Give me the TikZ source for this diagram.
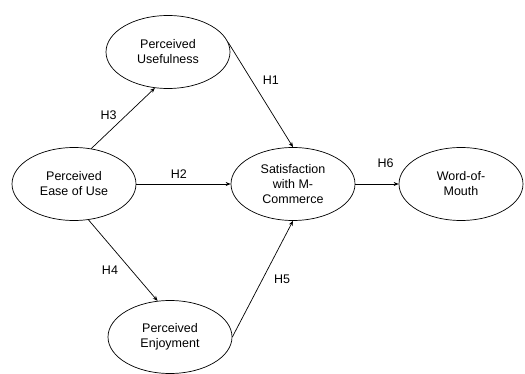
\documentclass[tikz,border=0pt]{standalone}
\usepackage{fontspec}
\setmainfont{Liberation Sans}
\usetikzlibrary{shapes.geometric, positioning, arrows.meta}
\tikzset{
x=1pt, y=-1pt, % one unit is one pixel of the sketch, y runs down
>={Stealth[length=5pt, width=4pt]}, % small filled arrow heads
construct/.style={ellipse, draw, line width=0.7pt, minimum width=124pt, minimum height=73pt, inner sep=0pt, align=center, font=\fontsize{12.5}{15}\selectfont}, % sets the properties for each construct
hypo/.style={->, line width=0.7pt}, % one hypothesis path
hlabel/.style={font=\fontsize{12.5}{15}\selectfont, inner sep=1pt}, % the H labels
}
\begin{document}
\begin{tikzpicture}
        \useasboundingbox (0,0) rectangle (525,374);
        \node[construct] (peu) at (74,184) {Perceived\\Ease of Use};
        \node[construct, right of=peu, node distance=219pt] (sat) {Satisfaction\\with M-\\Commerce};
        \node[construct, right of=sat, node distance=168pt] (wom) {Word-of-\\Mouth};
        \node[construct] (pu) at (168,52) {Perceived\\Usefulness};
        \node[construct] (pe) at (170,337) {Perceived\\Enjoyment};

        \draw[hypo] (peu.64) -- node[hlabel, pos=0.42, above left=2pt and 0pt] {H3} (pu.250);
        \draw[hypo] (pu.9) -- node[hlabel, pos=0.36, right=10pt] {H1} (sat.north);
        \draw[hypo] (peu.east) -- node[hlabel, pos=0.45, above=4pt] {H2} (sat.west);
        \draw[hypo] (peu.292) -- node[hlabel, pos=0.62, left=12pt] {H4} (pe.109);
        \draw[hypo] (pe.east) -- node[hlabel, pos=0.5, right=10pt] {H5} (sat.south);
        \draw[hypo] (sat.east) -- node[hlabel, pos=0.7, above=15pt] {H6} (wom.west);
    \end{tikzpicture}
\end{document}
